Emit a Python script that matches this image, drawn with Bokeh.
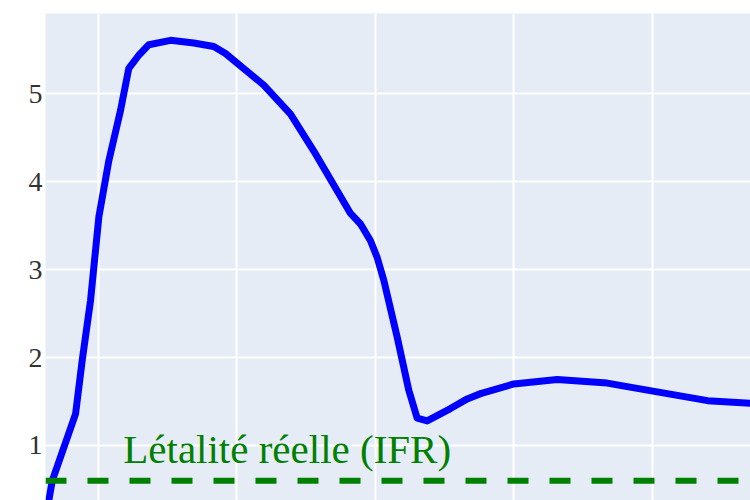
from bokeh.plotting import figure
from bokeh.models import FixedTicker, Span, Range1d
from bokeh.core.properties import value
from bokeh.embed import file_html
from bokeh.resources import INLINE

# Time axis (grid units; x labels are outside the visible crop)
x_vals = [-0.379, -0.330, -0.162, -0.114, -0.054, 0.006, 0.078, 0.162, 0.222, 0.294,
          0.367, 0.523, 0.691, 0.835, 0.920, 1.196, 1.389, 1.557, 1.822, 1.894,
          1.966, 2.014, 2.062, 2.159, 2.242, 2.303, 2.375, 2.543, 2.664, 2.760,
          3.000, 3.313, 3.674, 4.035, 4.398, 4.711]
# Apparent case fatality rate (%)
cfr_vals = [0.16, 0.60, 1.36, 1.97, 2.65, 3.60, 4.24, 4.81, 5.29, 5.44,
            5.56, 5.61, 5.58, 5.54, 5.46, 5.10, 4.77, 4.35, 3.64, 3.52,
            3.33, 3.14, 2.88, 2.23, 1.63, 1.31, 1.28, 1.42, 1.53, 1.59,
            1.70, 1.75, 1.71, 1.61, 1.51, 1.48]
# Real lethality (IFR) reference level
ifr_value = 0.6
ifr_label = ["Létalité réelle (IFR)"]
ifr_label_x = [0.182]
ifr_label_y = [0.96]

x_grid_ticks = [0, 1, 2, 3, 4]
y_ticks = [1, 2, 3, 4, 5]

p = figure(width=750, height=500, output_backend="svg", toolbar_location=None,
           x_range=Range1d(-0.379, 4.708), y_range=Range1d(0.374, 5.915),
           min_border_left=45, min_border_top=13, min_border_right=0, min_border_bottom=0)

p.background_fill_color = "#E5ECF6"
p.border_fill_color = "white"
p.outline_line_color = None

p.xaxis.visible = False
p.xaxis.ticker = FixedTicker(ticks=x_grid_ticks)
p.yaxis.ticker = FixedTicker(ticks=y_ticks)
p.yaxis.axis_line_color = None
p.yaxis.major_tick_line_color = None
p.yaxis.minor_tick_line_color = None
p.yaxis.major_tick_out = 0
p.yaxis.major_tick_in = 0
p.yaxis.major_label_standoff = 3
p.yaxis.major_label_text_font = "Liberation Serif"
p.yaxis.major_label_text_font_size = "28px"
p.yaxis.major_label_text_color = "#333333"

p.xgrid.grid_line_color = "white"
p.xgrid.grid_line_width = 2
p.ygrid.grid_line_color = "white"
p.ygrid.grid_line_width = 2

p.line(x_vals, cfr_vals, line_color="blue", line_width=7, line_join="round")

span = Span(location=ifr_value, dimension="width", line_color="green",
            line_width=6, line_dash="21 21")
p.add_layout(span)

p.text(x=ifr_label_x, y=ifr_label_y, text=ifr_label,
       text_font=value("Liberation Serif"), text_font_size="41px",
       text_color="green", text_baseline="alphabetic", text_align="left")

open("out.html", "w").write(file_html(p, INLINE))
